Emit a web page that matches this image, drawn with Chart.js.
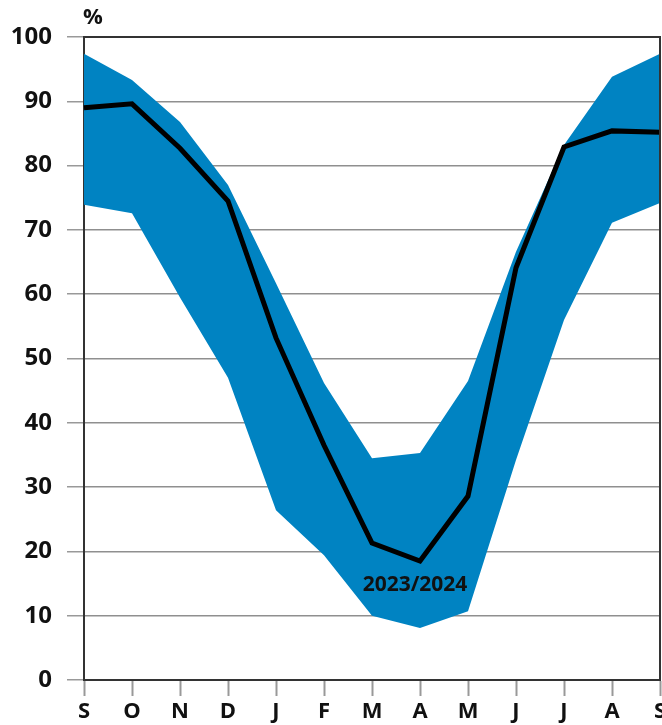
<!DOCTYPE html>
<html>
<head>
<meta charset="UTF-8">
<title>Chart</title>
<script src="https://cdn.jsdelivr.net/npm/chart.js"></script>
<style>
    body { margin: 0; background: #fff; }
    #wrap { width: 662px; height: 725px; }
</style>
</head>
<body>
<div id="wrap"><canvas id="chart" width="662" height="725"></canvas></div>
<script>
    const months = ["S", "O", "N", "D", "J", "F", "M", "A", "M", "J", "J", "A", "S"];
    const upper = [97.4, 93.3, 86.8, 77.0, 61.7, 46.2, 34.5, 35.3, 46.5, 66.6, 83.2, 93.8, 97.4];
    const lower = [73.9, 72.6, 59.5, 47.0, 26.4, 19.4, 10.0, 8.1, 10.7, 34.2, 56.0, 71.1, 74.2];
    const season = [89.0, 89.6, 82.7, 74.5, 53.2, 36.5, 21.3, 18.5, 28.6, 64.1, 82.9, 85.4, 85.2];
    const seasonLabel = "2023/2024";

    const font = "'Open Sans', sans-serif";

    const frame = {
        id: "frame",
        afterDraw(chart) {
            const { ctx, chartArea: a, scales } = chart;
            ctx.save();
            ctx.strokeStyle = "#333";
            ctx.lineWidth = 2;
            ctx.beginPath();
            ctx.moveTo(a.left, a.top);
            ctx.lineTo(a.right, a.top);
            ctx.lineTo(a.right, a.bottom);
            ctx.stroke();
            ctx.fillStyle = "#111";
            ctx.font = "bold 22px " + font;
            ctx.textAlign = "center";
            ctx.textBaseline = "middle";
            ctx.fillText("%", a.left + 9, 18);
            ctx.font = "bold 21px " + font;
            ctx.fillText(seasonLabel, scales.x.getPixelForValue(7) - 5, scales.y.getPixelForValue(14.8));
            ctx.restore();
        }
    };

    new Chart(document.getElementById("chart"), {
        type: "line",
        data: {
            labels: months,
            datasets: [
                { data: season, borderColor: "#000", borderWidth: 5, pointRadius: 0, fill: false, order: 0 },
                { data: upper, borderWidth: 0, pointRadius: 0, fill: "+1", backgroundColor: "#0083c2", order: 1 },
                { data: lower, borderWidth: 0, pointRadius: 0, fill: false, order: 2 }
            ]
        },
        options: {
            responsive: false,
            animation: false,
            layout: { padding: { top: 37, right: 2 } },
            plugins: { legend: { display: false }, tooltip: { enabled: false } },
            scales: {
                x: {
                    offset: false,
                    afterFit(s) { s.height = 45; s.paddingLeft = 0; s.paddingRight = 0; },
                    grid: { drawOnChartArea: false, drawTicks: true, tickLength: 16, tickColor: "#999", tickWidth: 2 },
                    border: { color: "#333", width: 2 },
                    ticks: { color: "#111", padding: 3, font: { family: font, size: 22, weight: "bold" }, maxRotation: 0, autoSkip: false }
                },
                y: {
                    min: 0,
                    max: 100,
                    afterFit(s) { s.width = 84; },
                    grid: { color: "#8f8f8f", lineWidth: 1.5, tickLength: 17, tickColor: "#999" },
                    border: { color: "#333", width: 2 },
                    ticks: { stepSize: 10, color: "#111", padding: 15, font: { family: font, size: 24, weight: "bold" } }
                }
            }
        },
        plugins: [frame]
    });
</script>
</body>
</html>
